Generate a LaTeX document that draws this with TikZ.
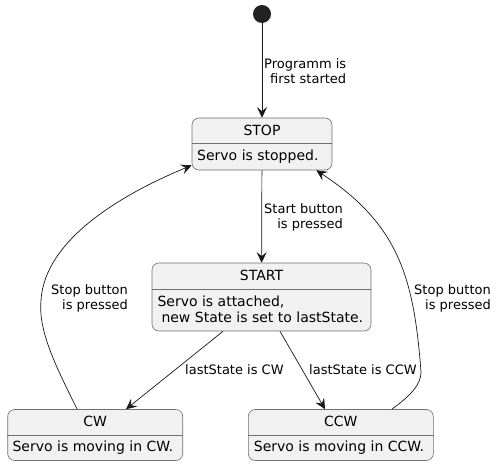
\documentclass[tikz,border=0pt]{standalone}
\usepackage{fontspec}
\setmainfont{DejaVu Sans}
\usetikzlibrary{calc, positioning, arrows.meta}
\definecolor{stFill}{HTML}{F1F1F1}
\definecolor{stLine}{HTML}{181818}
\definecolor{stBorder}{HTML}{707070}
\definecolor{stDot}{HTML}{222222}
\tikzset{
  smfig/.style={x=1pt, y=-1pt},
  smState/.style={draw=stBorder, line width=0.6pt, fill=stFill, rounded corners=7pt, inner sep=0pt},
  smSep/.style={draw=stBorder, line width=0.6pt},
  smHead/.style={font=\fontsize{14}{16.5}\selectfont, inner sep=0pt},
  smDesc/.style={font=\fontsize{14}{16.5}\selectfont, inner sep=0pt, align=left, anchor=west},
  smLbl/.style={font=\fontsize{13}{15}\selectfont, inner sep=0pt, align=right},
  smInit/.style={circle, fill=stDot, minimum size=18pt, inner sep=0pt},
  arr/.style={-{Stealth[length=10.5pt, width=10pt, inset=4pt]}, line width=0.7pt, draw=stLine},
}

\begin{document}
\begin{tikzpicture}[smfig]
  \useasboundingbox (0,0) rectangle (502,466);

  % ----- states -----
  \node[smInit] (init) at (262,14) {};
  \node[smState, minimum width=140pt, minimum height=52pt] (stop) at (262,144) {};
  \node[smState, minimum width=219pt, minimum height=68pt] (start) at (261.5,297) {};
  \node[smState, minimum width=175pt, minimum height=51pt] (cw) at (95.2,435) {};
  \node[smState, minimum width=185pt, minimum height=51pt] (ccw) at (340.8,435) {};

  % header separators
  \foreach \s/\h in {stop/26, start/27, cw/26, ccw/26}
    \draw[smSep] ($(\s.north west)+(0,\h)$) -- ($(\s.north east)+(0,\h)$);

  % state names and descriptions
  \node[smHead] (stopName) at ($(stop.north)+(0,12.7)$) {STOP};
  \node[smDesc] (stopDesc) at ($(stop.north west)+(5.3,38.7)$) {Servo is stopped.};
  \node[smHead] (startName) at ($(start.north)+(0,12.4)$) {START};
  \node[smDesc] (startDesc) at ($(start.north west)+(5.6,46.7)$)
    {Servo is attached,\\\hspace*{4pt}new State is set to lastState.};
  \node[smHead] (cwName) at ($(cw.north)+(0,12.2)$) {CW};
  \node[smDesc] (cwDesc) at ($(cw.north west)+(5,38.8)$) {Servo is moving in CW.};
  \node[smHead] (ccwName) at ($(ccw.north)+(0,12.2)$) {CCW};
  \node[smDesc] (ccwDesc) at ($(ccw.north west)+(5.7,38.8)$) {Servo is moving in CCW.};

  % ----- transitions -----
  \draw[arr] (init) -- (stop);
  \draw[arr] (stop) -- (start);
  \draw[arr] ($(start.south)+(-38.5,0)$) -- ($(cw.north)+(30.8,0)$);
  \draw[arr] ($(start.south)+(18.5,0)$) -- ($(ccw.north)+(-15.8,0)$);

  % back to STOP
  \coordinate (cwBend) at (41,300);
  \coordinate (ccwBend) at (421,372);
  \draw[arr] ($(cw.north)+(-18,0)$) .. controls (55,365) and (38,330) .. (cwBend)
    .. controls (45,240) and (120,195) .. ($(stop.south west)+(0,-5)$);
  \draw[arr] ($(ccw.north)+(51,0)$) .. controls (410,396) and (421,385) .. (ccwBend)
    .. controls (414,280) and (400,225) .. ($(stop.south east)+(-16,0)$);

  % ----- labels -----
  \node[smLbl, anchor=west] (lblFirst) at (264,71) {Programm is\\first started};
  \node[smLbl, anchor=west] (lblStart) at (264,217) {Start button\\is pressed};
  \node[smLbl, anchor=west] (lblCW) at (185,370) {lastState is CW};
  \node[smLbl, anchor=west] (lblCCW) at (309,370) {lastState is CCW};
  \node[smLbl, anchor=east] (lblStopL) at (128,298) {Stop button\\is pressed};
  \node[smLbl, anchor=east] (lblStopR) at (491,298) {Stop button\\is pressed};
\end{tikzpicture}
\end{document}
